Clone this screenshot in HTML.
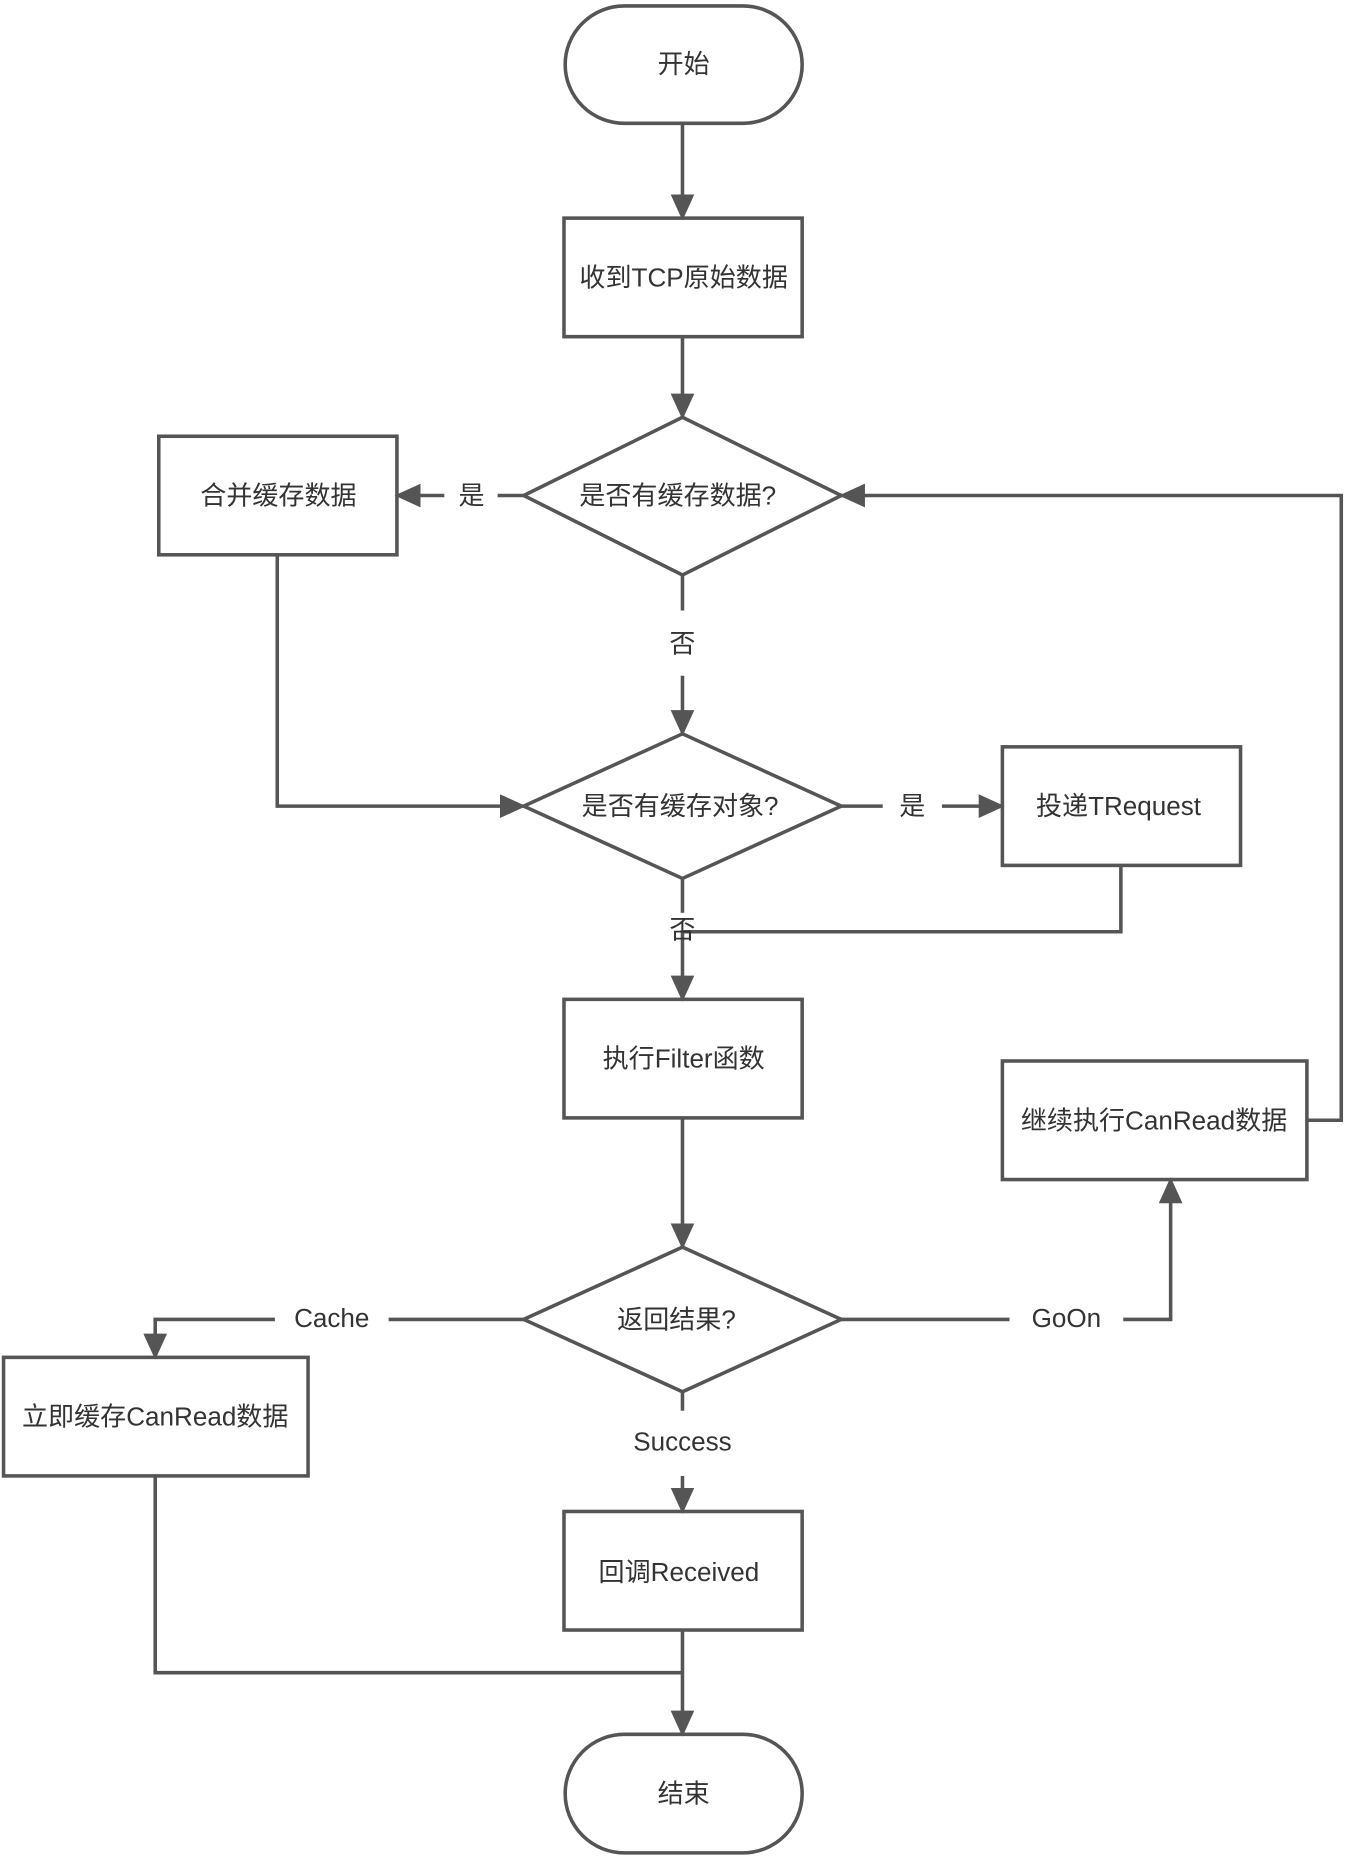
<!DOCTYPE html>
<html><head><meta charset="utf-8"><style>
html,body{margin:0;padding:0;background:#fff;}
svg{display:block}
text{font-family:"Liberation Sans","Noto Sans CJK SC",sans-serif;font-size:22px;fill:#333;text-anchor:middle;dominant-baseline:central}
</style></head><body>
<svg width="1346" height="1860" viewBox="0 0 1136 1569" preserveAspectRatio="none">
<defs><marker id="a" markerWidth="10" markerHeight="10" refX="9" refY="5" orient="auto" markerUnits="userSpaceOnUse" viewBox="0 0 10 10"><path d="M0,0 L10,5 L0,10z" fill="#555"/></marker>
<marker id="b" markerWidth="22" markerHeight="20" refX="20" refY="10" orient="auto" markerUnits="userSpaceOnUse" viewBox="0 0 22 20"><path d="M0,0 L22,10 L0,20z" fill="#555"/></marker></defs>
<g fill="none" stroke="#555" stroke-width="3">
<rect x="477" y="5" width="200" height="99" rx="50"/>
<rect x="476" y="184" width="201" height="100"/>
<polygon points="442,418 576,352 710,418 576,485"/>
<rect x="134" y="368" width="201" height="100"/>
<polygon points="442,680 576,619 710,680 576,741"/>
<rect x="846" y="630" width="201" height="100"/>
<rect x="476" y="843" width="201" height="100"/>
<rect x="846" y="895" width="257" height="100"/>
<polygon points="442,1113 576,1052 710,1113 576,1174"/>
<rect x="3" y="1145" width="257" height="100"/>
<rect x="476" y="1275" width="201" height="100"/>
<rect x="477" y="1463" width="200" height="100" rx="50"/>
</g>
<g fill="none" stroke="#555" stroke-width="3" marker-end="url(#b)">
<path d="M576,104V184"/>
<path d="M576,284V352"/>
<path d="M375,418H335"/>
<path d="M576,570V619"/>
<path d="M234,468V680H442"/>
<path d="M795,680H846"/>
<path d="M946,730V786H576V843"/>
<path d="M576,943V1052"/>
<path d="M232,1113H131V1145"/>
<path d="M948,1113H988V995"/>
<path d="M1103,945H1132V418H710"/>
<path d="M576,1245V1275"/>
<path d="M576,1375V1463"/>
</g>
<g fill="none" stroke="#555" stroke-width="3">
<path d="M442,418H420"/>
<path d="M576,485V515"/>
<path d="M710,680H745"/>
<path d="M576,741V770"/>
<path d="M442,1113H328"/>
<path d="M710,1113H852"/>
<path d="M576,1174V1190"/>
<path d="M131,1245V1411H576"/>
</g>
<text x="577" y="54">开始</text>
<text x="577" y="234">收到TCP原始数据</text>
<text x="572" y="418">是否有缓存数据?</text>
<text x="235" y="418">合并缓存数据</text>
<text x="398" y="418">是</text>
<text x="576" y="543">否</text>
<text x="574" y="680">是否有缓存对象?</text>
<text x="770" y="680">是</text>
<text x="944" y="680">投递TRequest</text>
<text x="576" y="784">否</text>
<text x="577" y="893">执行Filter函数</text>
<text x="974" y="945">继续执行CanRead数据</text>
<text x="571" y="1113">返回结果?</text>
<text x="280" y="1112">Cache</text>
<text x="900" y="1112">GoOn</text>
<text x="131" y="1195">立即缓存CanRead数据</text>
<text x="576" y="1216">Success</text>
<text x="573" y="1326">回调Received</text>
<text x="577" y="1513">结束</text>
</svg>
</body></html>
